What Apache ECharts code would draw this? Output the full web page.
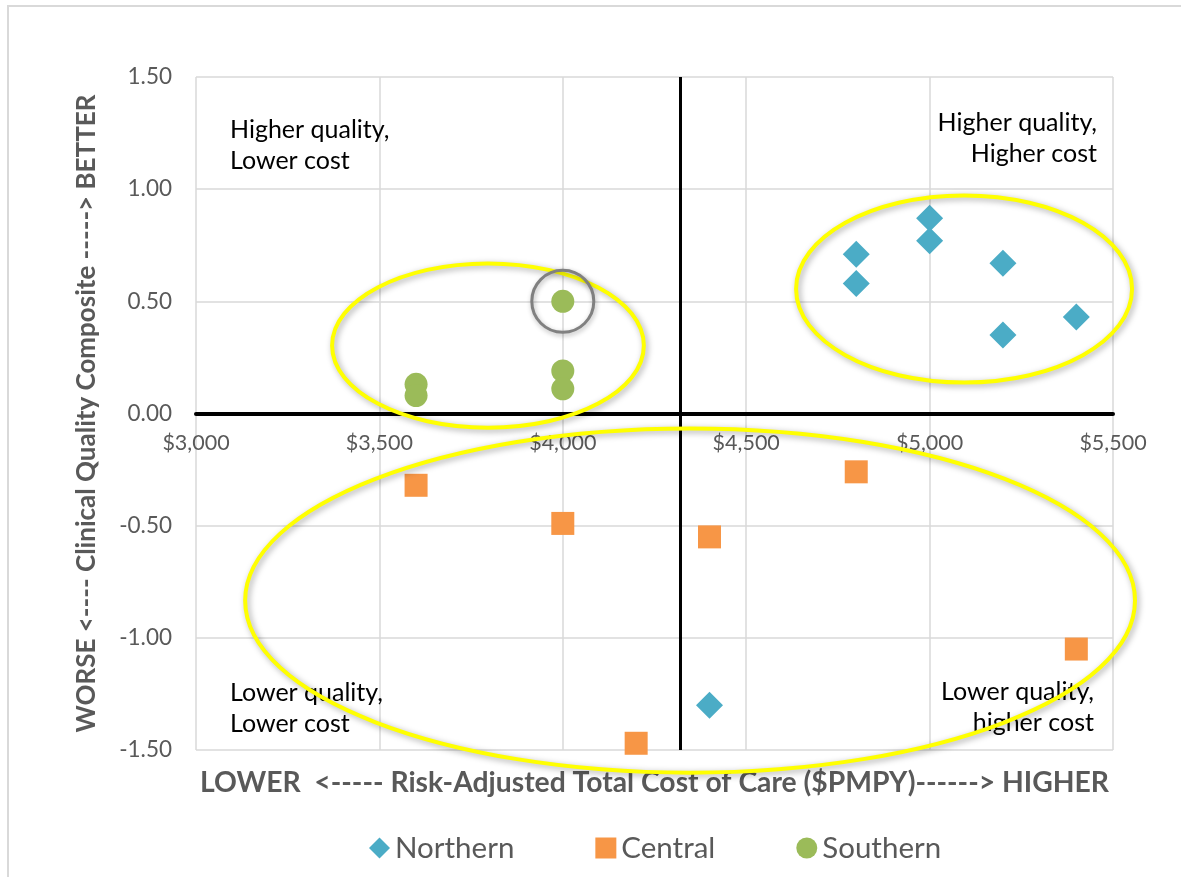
<!DOCTYPE html>
<html>
<head>
<meta charset="utf-8">
<style>
  html, body { margin: 0; padding: 0; background: #ffffff; }
  #chart { width: 1181px; height: 877px; }
</style>
<script src="https://cdn.jsdelivr.net/npm/echarts@6/dist/echarts.min.js"></script>
</head>
<body>
<div id="chart"></div>
<script>
// Cost (x) and quality composite (y) per practice, grouped by region
const northernCost    = [4800, 4800, 5000, 5000, 5200, 5200, 5400, 4400];
const northernQuality = [0.71, 0.58, 0.87, 0.77, 0.67, 0.35, 0.43, -1.30];

const centralCost    = [3600, 4000, 4400, 4800, 5400, 4200];
const centralQuality = [-0.32, -0.49, -0.55, -0.26, -1.05, -1.47];

const southernCost    = [4000, 4000, 4000, 3600, 3600];
const southernQuality = [0.50, 0.19, 0.11, 0.13, 0.08];

const seriesNames = ['Northern', 'Central', 'Southern'];
const seriesColors = ['#4BACC6', '#F79646', '#9BBB59'];

// Axis ranges and ticks
const costTicks = [3000, 3500, 4000, 4500, 5000, 5500];
const qualityTicks = [-1.5, -1.0, -0.5, 0, 0.5, 1.0, 1.5];
const averageCost = 4320;

// Cluster outlines (center and radii in data units) and the highlighted point
const clusters = [
  { cx: 3796, cy: 0.303, rx: 425, ry: 0.366 },
  { cx: 5094, cy: 0.555, rx: 458, ry: 0.417 },
  { cx: 4347, cy: -0.834, rx: 1213, ry: 0.767 }
];
const highlighted = [4000, 0.50];

const FONT = 'Lato, "Open Sans", sans-serif';
const GRAY = '#595959';

function pairs(xs, ys) { return xs.map((x, i) => [x, ys[i]]); }
function money(v) { return '$' + v.toLocaleString('en-US'); }

const chart = echarts.init(document.getElementById('chart'));

const option = {
  animation: false,
  backgroundColor: '#ffffff',
  textStyle: { fontFamily: FONT },
  grid: { left: 196, right: 68, top: 77, bottom: 127, containLabel: false },
  legend: {
    bottom: 9,
    left: 364,
    itemGap: 81,
    itemWidth: 21,
    itemHeight: 21,
    textStyle: { color: GRAY, fontSize: 29.5, fontFamily: FONT },
    data: [
      { name: 'Northern', icon: 'diamond' },
      { name: 'Central', icon: 'rect' },
      { name: 'Southern', icon: 'circle' }
    ]
  },
  xAxis: [
    {
      // cost axis drawn along the zero-quality line
      type: 'value',
      position: 'bottom',
      min: costTicks[0],
      max: costTicks[costTicks.length - 1],
      interval: 500,
      axisLine: { show: true, onZero: false, lineStyle: { color: '#000000', width: 4 } },
      axisTick: { show: false },
      axisLabel: { color: GRAY, fontSize: 21.5, margin: 19, formatter: money },
      splitLine: { show: true, lineStyle: { color: '#d9d9d9', width: 1.5 } }
    },
    {
      // carries the axis title under the plot
      type: 'value',
      position: 'bottom',
      min: costTicks[0],
      max: costTicks[costTicks.length - 1],
      axisLine: { show: false, onZero: false },
      axisTick: { show: false },
      axisLabel: { show: false },
      splitLine: { show: false },
      name: 'LOWER  <----- Risk-Adjusted Total Cost of Care ($PMPY)------> HIGHER',
      nameLocation: 'middle',
      nameGap: 19,
      nameTextStyle: { color: GRAY, fontSize: 28.3, fontWeight: 'bold', fontFamily: FONT }
    }
  ],
  yAxis: {
    type: 'value',
    min: qualityTicks[0],
    max: qualityTicks[qualityTicks.length - 1],
    interval: 0.5,
    axisLine: { show: false },
    axisTick: { show: false },
    axisLabel: { color: GRAY, fontSize: 22.5, margin: 24, formatter: v => v.toFixed(2) },
    splitLine: { show: true, lineStyle: { color: '#d9d9d9', width: 1.5 } },
    name: 'WORSE <---- Clinical Quality Composite -----> BETTER',
    nameLocation: 'middle',
    nameRotate: 90,
    nameGap: 96,
    nameTextStyle: { color: GRAY, fontSize: 26, fontWeight: 'bold', fontFamily: FONT }
  },
  series: [
    {
      name: 'Northern',
      type: 'scatter',
      symbol: 'diamond',
      symbolSize: 27,
      itemStyle: { color: seriesColors[0], opacity: 1 },
      data: pairs(northernCost, northernQuality),
      z: 3,
      markLine: {
        silent: true,
        symbol: 'none',
        label: { show: false },
        lineStyle: { color: '#000000', width: 3, type: 'solid' },
        data: [{ xAxis: averageCost }]
      }
    },
    {
      name: 'Central',
      type: 'scatter',
      symbol: 'rect',
      symbolSize: 23,
      itemStyle: { color: seriesColors[1], opacity: 1 },
      data: pairs(centralCost, centralQuality),
      z: 3
    },
    {
      name: 'Southern',
      type: 'scatter',
      symbol: 'circle',
      symbolSize: 23,
      itemStyle: { color: seriesColors[2], opacity: 1 },
      data: pairs(southernCost, southernQuality),
      z: 3
    }
  ]
};

chart.setOption(option);

function px(pt) { return chart.convertToPixel({ xAxisIndex: 0, yAxisIndex: 0 }, pt); }

const topLeft = px([costTicks[0], qualityTicks[qualityTicks.length - 1]]);
const botRight = px([costTicks[costTicks.length - 1], qualityTicks[0]]);
const zeroY = px([costTicks[0], 0])[1];

// Lift the cost axis (line and labels) up to the zero-quality line
chart.setOption({
  xAxis: [{ offset: zeroY - botRight[1] }, {}]
});

// Overlay: quadrant captions, cluster ellipses, highlight ring, outer frame
const captionStyle = { fill: '#000000', fontSize: 25, fontFamily: FONT, lineHeight: 31 };

const graphics = [
  {
    type: 'rect',
    silent: true,
    shape: { x: 8, y: 6, width: 1200, height: 900 },
    style: { fill: 'none', stroke: '#d9d9d9', lineWidth: 2 },
    z: 0
  },
  {
    type: 'text', silent: true, z: 20,
    x: topLeft[0] + 34, y: topLeft[1] + 37,
    style: Object.assign({ text: 'Higher quality,\nLower cost', align: 'left' }, captionStyle)
  },
  {
    type: 'text', silent: true, z: 20,
    x: botRight[0] - 16, y: topLeft[1] + 30,
    style: Object.assign({ text: 'Higher quality,\nHigher cost', align: 'right' }, captionStyle)
  },
  {
    type: 'text', silent: true, z: 20,
    x: topLeft[0] + 34, y: botRight[1] - 73,
    style: Object.assign({ text: 'Lower quality,\nLower cost', align: 'left' }, captionStyle)
  },
  {
    type: 'text', silent: true, z: 20,
    x: botRight[0] - 19, y: botRight[1] - 74,
    style: Object.assign({ text: 'Lower quality,\nhigher cost', align: 'right' }, captionStyle)
  }
];

clusters.forEach(c => {
  const center = px([c.cx, c.cy]);
  const corner = px([c.cx + c.rx, c.cy + c.ry]);
  graphics.push({
    type: 'ellipse',
    silent: true,
    z: 30,
    shape: {
      cx: center[0], cy: center[1],
      rx: Math.abs(corner[0] - center[0]),
      ry: Math.abs(center[1] - corner[1])
    },
    style: {
      fill: 'none', stroke: '#FFFF00', lineWidth: 4,
      shadowBlur: 6, shadowColor: 'rgba(0,0,0,0.35)', shadowOffsetX: 2, shadowOffsetY: 2
    }
  });
});

const ringCenter = px(highlighted);
graphics.push({
  type: 'circle',
  silent: true,
  z: 31,
  shape: { cx: ringCenter[0], cy: ringCenter[1], r: 31 },
  style: {
    fill: 'none', stroke: '#808080', lineWidth: 3,
    shadowBlur: 5, shadowColor: 'rgba(0,0,0,0.3)', shadowOffsetX: 1, shadowOffsetY: 2
  }
});

chart.setOption({ graphic: graphics });
</script>
</body>
</html>
